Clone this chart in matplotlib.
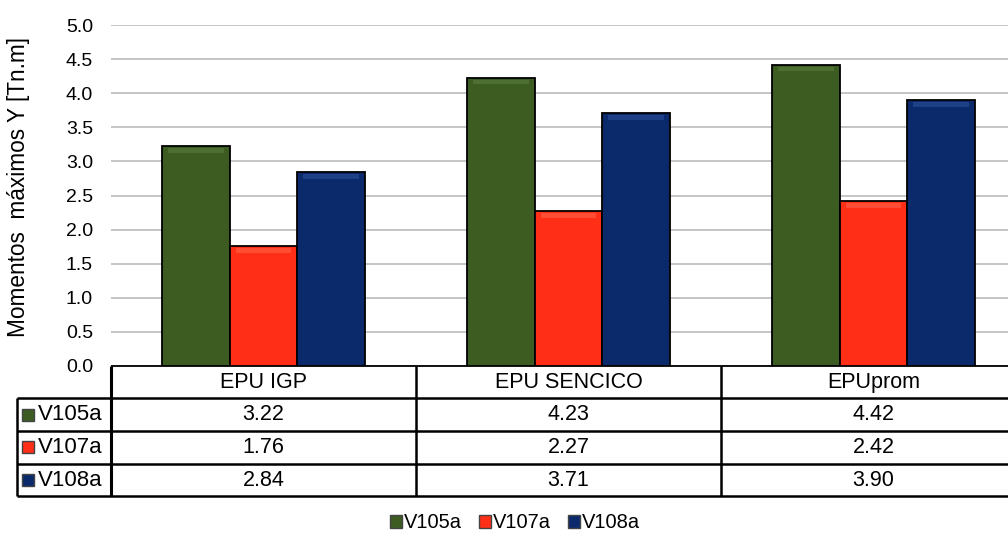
import numpy as np
import matplotlib
matplotlib.use("Agg")
from matplotlib import pyplot as plt
from matplotlib.patches import Patch

plt.rcParams['font.family'] = ['Liberation Sans', 'DejaVu Sans']

categories = ["EPU IGP", "EPU SENCICO", "EPUprom"]
series = ["V105a", "V107a", "V108a"]
v105a = [3.22, 4.23, 4.42]
v107a = [1.76, 2.27, 2.42]
v108a = [2.84, 3.71, 3.90]
values = [v105a, v107a, v108a]
colors = ["#3d5c22", "#ff2e17", "#0b2a6c"]
highlight = ["#557838", "#ff5a40", "#254a92"]

W, H = 1008, 535
fig = plt.figure(figsize=(W / 100, H / 100), dpi=100)
# axes in pixel terms: left 111, right 1026, top 25, bottom 366
ax = fig.add_axes([111 / W, 1 - 366 / H, 915 / W, 341 / H])

x = np.arange(len(categories))
bw = 0.222
for i, (vals, c, hc) in enumerate(zip(values, colors, highlight)):
    pos = x + (i - 1) * bw
    ax.bar(pos, vals, bw, color=c, edgecolor="black", linewidth=1.3, zorder=3)
    # soft top bevel
    ax.bar(pos, [0.07] * len(vals), bw * 0.82, bottom=np.array(vals) - 0.1,
           color=hc, linewidth=0, zorder=4, alpha=0.7)

ax.set_xlim(-0.5, 2.5)
ax.set_ylim(0, 5.0)
ax.set_yticks(np.arange(0, 5.01, 0.5))
ax.set_yticklabels([f"{t:.1f}" for t in np.arange(0, 5.01, 0.5)], fontsize=14)
ax.set_xticks([])
ax.tick_params(axis="y", length=0, pad=13)
ax.grid(axis="y", color="#c0c0c0", linewidth=1.3, zorder=0)
for s in ax.spines.values():
    s.set_visible(False)

fig.text(19 / W, 1 - 187 / H, "Momentos  máximos Y [Tn.m]", rotation=90,
         ha="center", va="center", fontsize=16.3)

# data table under the axes
tr = ax.get_xaxis_transform()
rows = [0, -0.095, -0.191, -0.287, -0.382]
x_left_lab = -0.5 - (111 - 17) / 305
lkw = dict(color="black", transform=tr, clip_on=False, solid_capstyle="butt")
ax.plot([-0.5, 2.6], [rows[0], rows[0]], lw=1.3, **lkw)
for r in rows[1:]:
    ax.plot([x_left_lab, 2.6], [r, r], lw=1.8, **lkw)
ax.plot([-0.5, -0.5], [rows[0], rows[-1]], lw=2.2, **lkw)
ax.plot([x_left_lab, x_left_lab], [rows[1], rows[-1]], lw=1.8, **lkw)
for xb in [0.5, 1.5]:
    ax.plot([xb, xb], [rows[0], rows[-1]], lw=1.8, **lkw)

for j, cat in enumerate(categories):
    ax.text(j, (rows[0] + rows[1]) / 2, cat, transform=tr, ha="center",
            va="center", fontsize=15.5)
for i, (name, vals, c) in enumerate(zip(series, values, colors)):
    yc = (rows[i + 1] + rows[i + 2]) / 2
    ax.plot([x_left_lab + 0.037], [yc], marker="s", markersize=9, color=c,
            markeredgecolor="#444444", transform=tr, clip_on=False)
    ax.text(x_left_lab + 0.069, yc, name, transform=tr, ha="left",
            va="center", fontsize=16)
    for j, v in enumerate(vals):
        ax.text(j, yc, f"{v:.2f}", transform=tr, ha="center", va="center",
                fontsize=15.5)

handles = [Patch(facecolor=c, edgecolor="#444444") for c in colors]
fig.legend(handles, series, loc="center", bbox_to_anchor=(515 / W, 1 - 523 / H),
           ncol=3, frameon=False, fontsize=14.5, handlelength=0.6,
           handleheight=0.6, handletextpad=0.1, columnspacing=0.85)

fig.savefig("out.png", dpi=100)
